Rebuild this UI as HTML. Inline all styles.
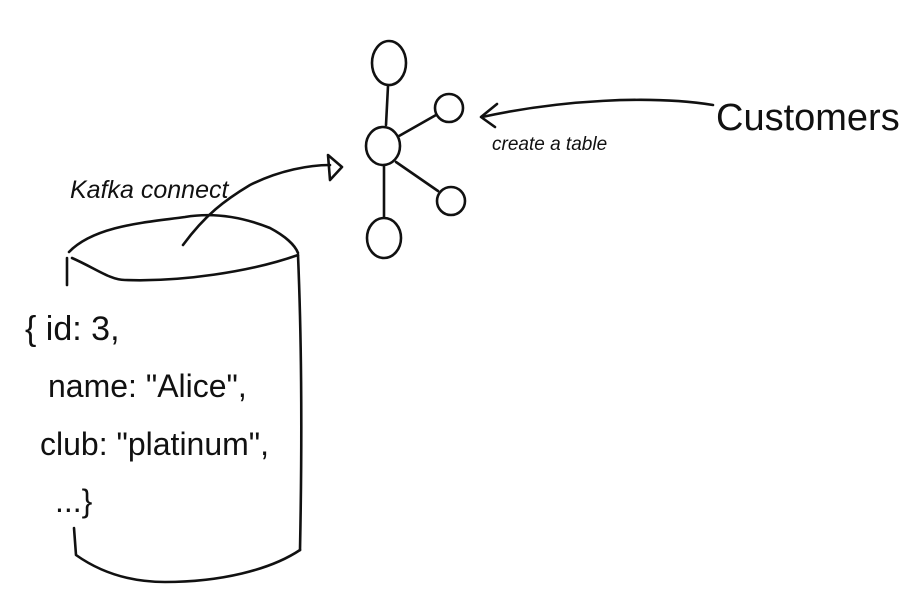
<!DOCTYPE html>
<html><head><style>
html,body{margin:0;padding:0;background:#fff;width:922px;height:608px;overflow:hidden}
text{font-family:"Liberation Sans",sans-serif;fill:#111}
</style></head><body>
<svg width="922" height="608" viewBox="0 0 922 608" xmlns="http://www.w3.org/2000/svg">
<g fill="none" stroke="#111" stroke-width="2.6" stroke-linecap="round" stroke-linejoin="round">
<!-- cylinder -->
<path d="M69,252 C95,225 150,222 185,217 C215,212 245,218 270,228 C285,236 295,245 298,253"/>
<path d="M72,258 C95,268 110,280 125,280 C180,282 250,272 298,255"/>
<path d="M67,258 L67,285"/>
<path d="M298,255 C302,350 302,450 300,550"/>
<path d="M74,528 L76,555 C100,572 130,582 165,582 C220,582 270,570 300,550"/>
<!-- kafka arrow -->
<path d="M183,245 C205,215 225,200 250,185 C280,170 310,165 330,165"/>
<path d="M328,155 L342,167 L330,180 Z"/>
<!-- graph -->
<ellipse cx="389" cy="63" rx="17" ry="22"/>
<ellipse cx="449" cy="108" rx="14" ry="14"/>
<ellipse cx="383" cy="146" rx="17" ry="19"/>
<ellipse cx="451" cy="201" rx="14" ry="14"/>
<ellipse cx="384" cy="238" rx="17" ry="20"/>
<path d="M388,86 L386,125"/>
<path d="M399,136 L436,115"/>
<path d="M384,166 L384,217"/>
<path d="M396,162 L438,191"/>
<!-- customers arrow -->
<path d="M713,105 C650,95 560,100 482,117"/>
<path d="M497,104 L481,117 L495,127"/>
</g>
<text x="70" y="198" font-size="25" font-style="italic">Kafka connect</text>
<text x="492" y="150" font-size="19" font-style="italic">create a table</text>
<text x="716" y="130" font-size="38">Customers</text>
<text x="25" y="340" font-size="34">{ id: 3,</text>
<text x="48" y="397" font-size="32">name: "Alice",</text>
<text x="40" y="455" font-size="32">club: "platinum",</text>
<text x="55" y="512" font-size="32">...}</text>
</svg>
</body></html>
